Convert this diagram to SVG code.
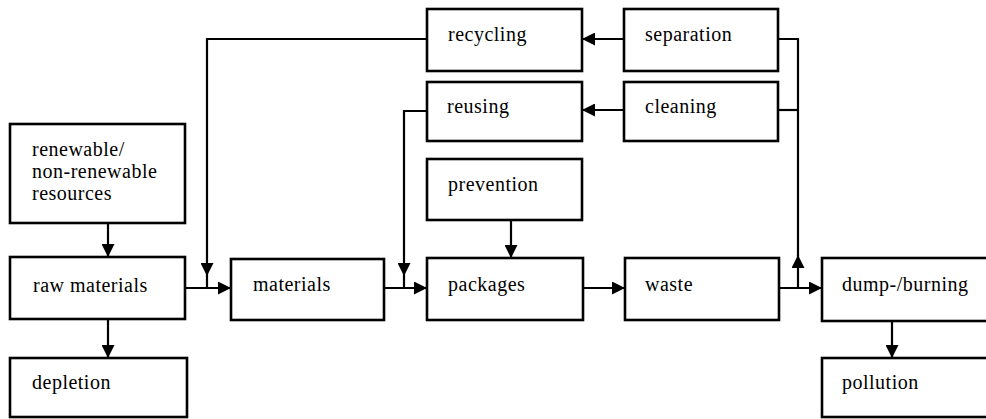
<svg xmlns="http://www.w3.org/2000/svg" width="986" height="419" viewBox="0 0 986 419">
<defs>
<style>
.box{fill:#fff;stroke:#000;stroke-width:2.6}
.lbl{font-family:"Liberation Serif","Times New Roman",serif;font-size:20px;letter-spacing:0.5px;fill:#000}
.con{fill:none;stroke:#000;stroke-width:2.2}
</style>
<marker id="ah" viewBox="0 0 10 10" refX="10" refY="5" markerWidth="13" markerHeight="13" markerUnits="userSpaceOnUse" orient="auto">
<path d="M0,0 L10,5 L0,10 Z" fill="#000"/>
</marker>
</defs>
<rect width="986" height="419" fill="#fff"/>
<g id="connectors">
<path class="con" d="M108,223 V257" marker-end="url(#ah)"/>
<path class="con" d="M108,319 V358" marker-end="url(#ah)"/>
<path class="con" d="M185,288 H231" marker-end="url(#ah)"/>
<path class="con" d="M427,39 H207 V276" marker-end="url(#ah)"/>
<path class="con" d="M207,276 V288"/>
<path class="con" d="M384,288 H427" marker-end="url(#ah)"/>
<path class="con" d="M427,111 H404 V276" marker-end="url(#ah)"/>
<path class="con" d="M404,276 V288"/>
<path class="con" d="M511,220 V258" marker-end="url(#ah)"/>
<path class="con" d="M583,288 H625" marker-end="url(#ah)"/>
<path class="con" d="M779,288 H822" marker-end="url(#ah)"/>
<path class="con" d="M798,288 V255" marker-end="url(#ah)"/>
<path class="con" d="M778,39 H798 V256"/>
<path class="con" d="M778,110 H798"/>
<path class="con" d="M624,39 H582" marker-end="url(#ah)"/>
<path class="con" d="M624,110 H582" marker-end="url(#ah)"/>
<path class="con" d="M892,321 V358" marker-end="url(#ah)"/>
</g>
<g id="resources"><rect class="box" x="10" y="124" width="175" height="99"/>
<text class="lbl" x="32" y="156">renewable/</text>
<text class="lbl" x="32" y="178">non-renewable</text>
<text class="lbl" x="32" y="200">resources</text></g>
<g id="raw-materials"><rect class="box" x="10" y="257" width="175" height="62"/><text class="lbl" x="33" y="292">raw materials</text></g>
<g id="depletion"><rect class="box" x="10" y="358" width="177" height="59"/><text class="lbl" x="32" y="389">depletion</text></g>
<g id="materials"><rect class="box" x="231" y="259" width="153" height="61"/><text class="lbl" x="253" y="291">materials</text></g>
<g id="recycling"><rect class="box" x="427" y="9" width="155" height="62"/><text class="lbl" x="448" y="41">recycling</text></g>
<g id="reusing"><rect class="box" x="427" y="82" width="155" height="59"/><text class="lbl" x="447" y="113">reusing</text></g>
<g id="prevention"><rect class="box" x="427" y="159" width="155" height="61"/><text class="lbl" x="448" y="191">prevention</text></g>
<g id="packages"><rect class="box" x="427" y="258" width="156" height="62"/><text class="lbl" x="448" y="291">packages</text></g>
<g id="separation"><rect class="box" x="624" y="9" width="154" height="62"/><text class="lbl" x="645" y="41">separation</text></g>
<g id="cleaning"><rect class="box" x="624" y="82" width="154" height="59"/><text class="lbl" x="645" y="113">cleaning</text></g>
<g id="waste"><rect class="box" x="625" y="258" width="154" height="62"/><text class="lbl" x="645" y="291">waste</text></g>
<g id="dump-burning"><rect class="box" x="822" y="258" width="200" height="63"/><text class="lbl" x="842" y="291">dump-/burning</text></g>
<g id="pollution"><rect class="box" x="822" y="358" width="200" height="59"/><text class="lbl" x="842" y="389">pollution</text></g>
</svg>
